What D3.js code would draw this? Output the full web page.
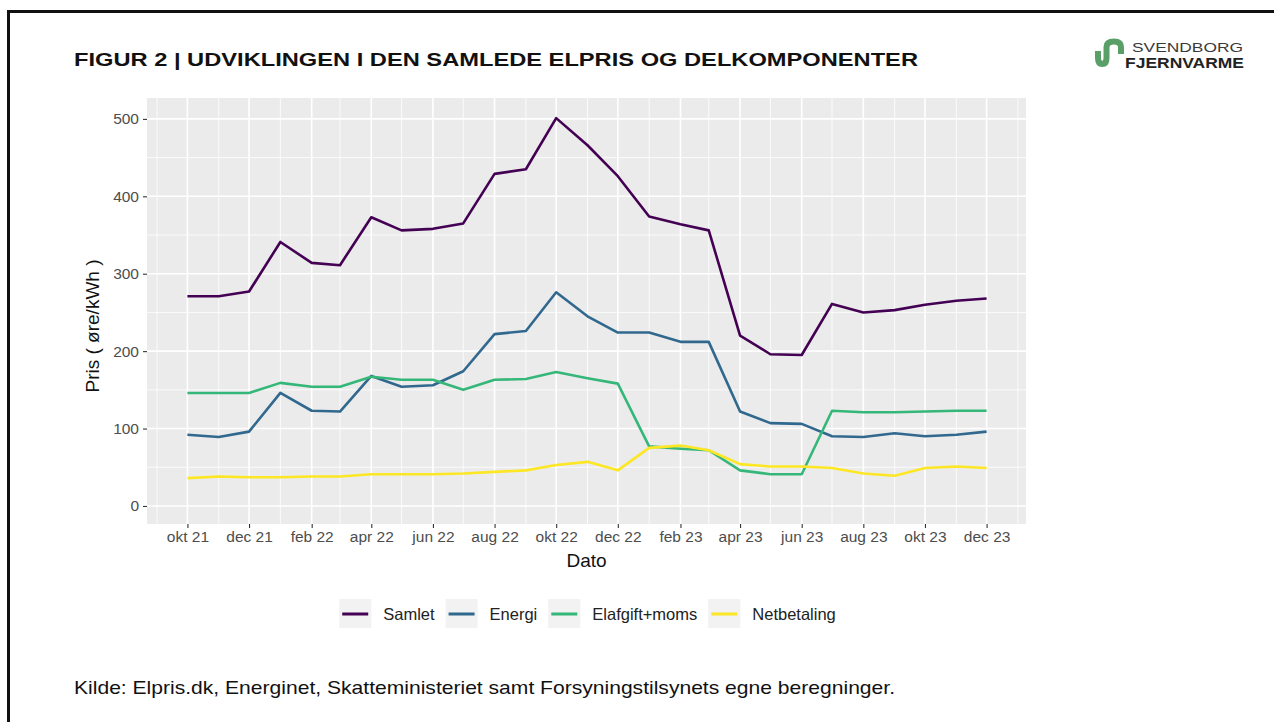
<!DOCTYPE html>
<html>
<head>
<meta charset="utf-8">
<script src="https://cdn.jsdelivr.net/npm/d3@7"></script>
<style>
  body { margin: 0; background: #fff; }
  svg { display: block; font-family: "Liberation Sans", Arial, sans-serif; }
</style>
</head>
<body>
<svg id="chart" width="1274" height="722"></svg>
<script>
// months okt 21 .. dec 23
var months = ["2021-10","2021-11","2021-12","2022-01","2022-02","2022-03","2022-04","2022-05","2022-06",
              "2022-07","2022-08","2022-09","2022-10","2022-11","2022-12","2023-01","2023-02","2023-03",
              "2023-04","2023-05","2023-06","2023-07","2023-08","2023-09","2023-10","2023-11","2023-12"];

var samlet      = [271, 271, 277, 341, 314, 311, 373, 356, 358, 365, 429, 435, 501, 466, 426, 374, 364, 356, 220, 196, 195, 261, 250, 253, 260, 265, 268];
var energi      = [92, 89, 96, 146, 123, 122, 168, 154, 156, 174, 222, 226, 276, 245, 224, 224, 212, 212, 122, 107, 106, 90, 89, 94, 90, 92, 96];
var elafgift    = [146, 146, 146, 159, 154, 154, 167, 163, 163, 150, 163, 164, 173, 165, 158, 77, 74, 72, 46, 41, 41, 123, 121, 121, 122, 123, 123];
var netbetaling = [36, 38, 37, 37, 38, 38, 41, 41, 41, 42, 44, 46, 53, 57, 46, 75, 78, 72, 54, 51, 51, 49, 42, 39, 49, 51, 49];

var seriesNames = ["Samlet", "Energi", "Elafgift+moms", "Netbetaling"];
var seriesColors = ["#440154", "#31688E", "#35B779", "#FDE725"];
var seriesValues = [samlet, energi, elafgift, netbetaling];

var yTicks = [0, 100, 200, 300, 400, 500];
var yMinor = [50, 150, 250, 350, 450];
var xTickLabels = ["okt 21","dec 21","feb 22","apr 22","jun 22","aug 22","okt 22",
                   "dec 22","feb 23","apr 23","jun 23","aug 23","okt 23","dec 23"];

var parseMonth = d3.timeParse("%Y-%m");
var dates = months.map(parseMonth);

var svg = d3.select("#chart");

// frame
svg.append("line").attr("x1", 7).attr("x2", 1274).attr("y1", 11.5).attr("y2", 11.5)
   .attr("stroke", "#111").attr("stroke-width", 3);
svg.append("line").attr("x1", 8.5).attr("x2", 8.5).attr("y1", 10).attr("y2", 722)
   .attr("stroke", "#111").attr("stroke-width", 3);

// title
svg.append("text").attr("x", 74).attr("y", 66)
   .attr("font-size", 19).attr("font-weight", "bold").attr("fill", "#111")
   .attr("textLength", 844).attr("lengthAdjust", "spacingAndGlyphs")
   .text("FIGUR 2 | UDVIKLINGEN I DEN SAMLEDE ELPRIS OG DELKOMPONENTER");

// logo
var logo = svg.append("g");
logo.append("path")
    .attr("d", "M1098,51 L1098,58 Q1098,64 1102.3,64 Q1106.5,64 1106.5,58 L1106.5,47 Q1106.5,41.5 1114,41.5 Q1121,41.5 1121,47 L1121,54")
    .attr("fill", "none").attr("stroke", "#5a9e68").attr("stroke-width", 6);
logo.append("text").attr("x", 1132).attr("y", 52)
    .attr("font-size", 13.5).attr("fill", "#3a3a3a")
    .attr("textLength", 111).attr("lengthAdjust", "spacingAndGlyphs").text("SVENDBORG");
logo.append("text").attr("x", 1125).attr("y", 68)
    .attr("font-size", 15.5).attr("font-weight", "bold").attr("fill", "#222")
    .attr("textLength", 119).attr("lengthAdjust", "spacingAndGlyphs").text("FJERNVARME");

// panel
var pLeft = 147, pRight = 1026, pTop = 98, pBottom = 524;

var x = d3.scaleTime()
    .domain([d3.timeDay.offset(dates[0], -39.5), d3.timeDay.offset(dates[dates.length - 1], 39.5)])
    .range([pLeft, pRight]);
var y = d3.scaleLinear().domain([-23.3, 527]).range([pBottom, pTop]);

svg.append("rect").attr("x", pLeft).attr("y", pTop)
   .attr("width", pRight - pLeft).attr("height", pBottom - pTop).attr("fill", "#ebebeb");

var xMajor = dates.filter((d, i) => i % 2 === 0);
var xMinorDates = [parseMonth("2021-09")].concat(dates.filter((d, i) => i % 2 === 1), [parseMonth("2024-01")]);

var grid = svg.append("g");
grid.selectAll("line.ymin").data(yMinor).enter().append("line")
    .attr("x1", pLeft).attr("x2", pRight).attr("y1", d => y(d)).attr("y2", d => y(d))
    .attr("stroke", "#fff").attr("stroke-width", 0.8);
grid.selectAll("line.xmin").data(xMinorDates).enter().append("line")
    .attr("y1", pTop).attr("y2", pBottom).attr("x1", d => x(d)).attr("x2", d => x(d))
    .attr("stroke", "#fff").attr("stroke-width", 0.8);
grid.selectAll("line.ymaj").data(yTicks).enter().append("line")
    .attr("x1", pLeft).attr("x2", pRight).attr("y1", d => y(d)).attr("y2", d => y(d))
    .attr("stroke", "#fff").attr("stroke-width", 1.6);
grid.selectAll("line.xmaj").data(xMajor).enter().append("line")
    .attr("y1", pTop).attr("y2", pBottom).attr("x1", d => x(d)).attr("x2", d => x(d))
    .attr("stroke", "#fff").attr("stroke-width", 1.6);

// axes
var xAxis = svg.append("g").attr("transform", "translate(0," + pBottom + ")")
    .call(d3.axisBottom(x).tickValues(xMajor).tickFormat((d, i) => xTickLabels[i]).tickSize(4).tickPadding(3));
var yAxis = svg.append("g").attr("transform", "translate(" + pLeft + ",0)")
    .call(d3.axisLeft(y).tickValues(yTicks).tickSize(4).tickPadding(4));
[xAxis, yAxis].forEach(function (a) {
  a.select(".domain").remove();
  a.selectAll(".tick line").attr("stroke", "#333").attr("stroke-width", 1.1);
  a.selectAll(".tick text").attr("fill", "#4d4d4d").attr("font-size", 15.5)
   .attr("font-family", "'Liberation Sans', Arial, sans-serif");
});

svg.append("text").attr("x", (pLeft + pRight) / 2).attr("y", 567).attr("text-anchor", "middle")
   .attr("font-size", 19).attr("fill", "#111").text("Dato");
svg.append("text").attr("transform", "translate(99,326) rotate(-90)").attr("text-anchor", "middle")
   .attr("font-size", 19).attr("fill", "#111").text("Pris ( øre/kWh )");

// lines
var line = d3.line().x((d, i) => x(dates[i])).y(d => y(d));
svg.append("g").selectAll("path").data(seriesValues).enter().append("path")
   .attr("d", line).attr("fill", "none")
   .attr("stroke", (d, i) => seriesColors[i]).attr("stroke-width", 2.6)
   .attr("stroke-linejoin", "round");

// legend
var items = svg.append("g").selectAll("g").data(seriesNames).enter().append("g");
items.append("rect").attr("width", 32).attr("height", 29).attr("y", 599).attr("fill", "#f2f2f2");
items.append("line").attr("x1", 3).attr("x2", 29).attr("y1", 614).attr("y2", 614)
     .attr("stroke", (d, i) => seriesColors[i]).attr("stroke-width", 3);
items.append("text").attr("x", 44).attr("y", 620).attr("font-size", 16.5).attr("fill", "#222").text(d => d);
var pos = 0, offsets = [];
items.each(function () {
  offsets.push(pos);
  pos += 44 + d3.select(this).select("text").node().getComputedTextLength() + 11;
});
var startX = 587.5 - (pos - 11) / 2;
items.attr("transform", (d, i) => "translate(" + (startX + offsets[i]) + ",0)");

// caption
svg.append("text").attr("x", 74).attr("y", 694).attr("font-size", 18.5).attr("fill", "#111")
   .attr("textLength", 821).attr("lengthAdjust", "spacingAndGlyphs")
   .text("Kilde: Elpris.dk, Energinet, Skatteministeriet samt Forsyningstilsynets egne beregninger.");
</script>
</body>
</html>
